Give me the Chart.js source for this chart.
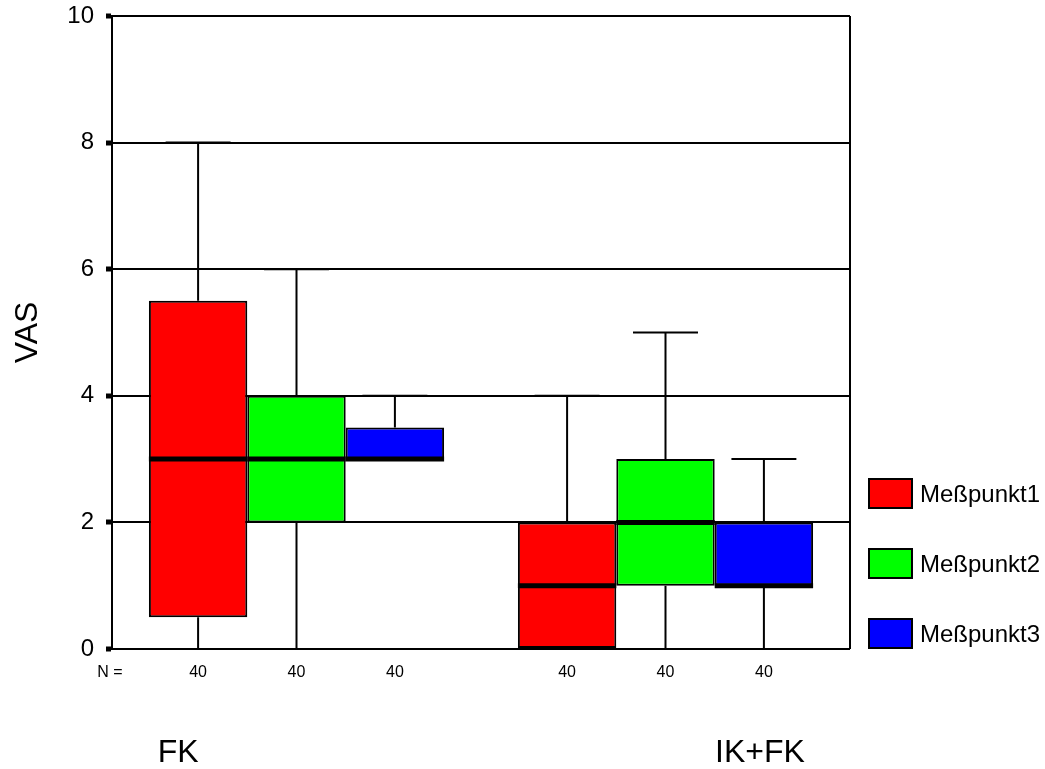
<!DOCTYPE html>
<html>
<head>
<meta charset="utf-8">
<script src="https://cdn.jsdelivr.net/npm/chart.js@4"></script>
<style>
  body { margin: 0; background: #fff; }
</style>
</head>
<body>
<canvas id="vas-chart" width="1045" height="769"></canvas>
<script>
// data
let categories = ['FK', 'IK+FK']
let seriesNames = ['Meßpunkt1', 'Meßpunkt2', 'Meßpunkt3']
let seriesColors = ['#ff0000', '#00ff00', '#0000ff']

// one row per Meßpunkt, one column per group
let whiskerLow = [[0, 0], [0, 0], [3, 0]]
let quartile1 = [[0.5, 0], [2, 1], [3, 1]]
let medians = [[3, 1], [3, 2], [3, 1]]
let quartile3 = [[5.5, 2], [4, 3], [3.5, 2]]
let whiskerHigh = [[8, 4], [6, 5], [4, 3]]
let counts = [[40, 40], [40, 40], [40, 40]]

let yTicks = [0, 2, 4, 6, 8, 10]

let font = '"Liberation Sans", Arial, sans-serif'

// whiskers, medians, N row, group labels, legend
let boxExtras = {
    id: 'boxExtras',
    afterDatasetsDraw(chart) {
        let ctx = chart.ctx
        let y = chart.scales.y
        ctx.save()
        ctx.strokeStyle = '#000'
        chart.data.datasets.forEach(function(ds, i) {
            let meta = chart.getDatasetMeta(i)
            meta.data.forEach(function(bar, j) {
                let x = bar.x
                let w = bar.width
                let cap = w * 0.33
                ctx.lineWidth = 2
                ctx.beginPath()
                if (whiskerHigh[i][j] > quartile3[i][j]) {
                    ctx.moveTo(x, y.getPixelForValue(quartile3[i][j]))
                    ctx.lineTo(x, y.getPixelForValue(whiskerHigh[i][j]))
                    ctx.moveTo(x - cap, y.getPixelForValue(whiskerHigh[i][j]))
                    ctx.lineTo(x + cap, y.getPixelForValue(whiskerHigh[i][j]))
                }
                if (whiskerLow[i][j] < quartile1[i][j]) {
                    ctx.moveTo(x, y.getPixelForValue(quartile1[i][j]))
                    ctx.lineTo(x, y.getPixelForValue(whiskerLow[i][j]))
                    ctx.moveTo(x - cap, y.getPixelForValue(whiskerLow[i][j]))
                    ctx.lineTo(x + cap, y.getPixelForValue(whiskerLow[i][j]))
                }
                ctx.stroke()
                // median
                ctx.lineWidth = 5
                ctx.beginPath()
                ctx.moveTo(x - w / 2, y.getPixelForValue(medians[i][j]))
                ctx.lineTo(x + w / 2, y.getPixelForValue(medians[i][j]))
                ctx.stroke()
            })
        })
        ctx.restore()
    },
    afterDraw(chart) {
        let ctx = chart.ctx
        let area = chart.chartArea
        ctx.save()

        // frame right side
        ctx.strokeStyle = '#000'
        ctx.lineWidth = 2
        ctx.beginPath()
        ctx.moveTo(area.right, area.top)
        ctx.lineTo(area.right, area.bottom)
        ctx.stroke()

        // N = row
        ctx.fillStyle = '#000'
        ctx.textBaseline = 'middle'
        ctx.textAlign = 'center'
        ctx.font = '16px ' + font
        let nY = area.bottom + 24
        ctx.fillText('N =', area.left - 2, nY)
        chart.data.datasets.forEach(function(ds, i) {
            chart.getDatasetMeta(i).data.forEach(function(bar, j) {
                ctx.fillText(String(counts[i][j]), bar.x, nY)
            })
        })

        // group labels
        ctx.font = '32px ' + font
        let first = chart.getDatasetMeta(0).data[0]
        let last = chart.getDatasetMeta(2).data[1]
        ctx.fillText(categories[0], first.x - 20, area.bottom + 104)
        ctx.fillText(categories[1], last.x - 4, area.bottom + 104)

        // legend
        ctx.textAlign = 'left'
        ctx.font = '24px ' + font
        seriesNames.forEach(function(name, i) {
            let top = area.bottom - 31 - (seriesNames.length - 1 - i) * 70
            let left = area.right + 18
            ctx.fillStyle = seriesColors[i]
            ctx.fillRect(left, top, 45, 31)
            ctx.strokeStyle = '#000'
            ctx.lineWidth = 2
            ctx.strokeRect(left + 1, top + 1, 43, 29)
            ctx.fillStyle = '#000'
            ctx.fillText(name, left + 52, top + 17)
        })
        ctx.restore()
    }
}

let canvas = document.querySelector('#vas-chart')
let context = canvas.getContext('2d')

let chart = new Chart(context, {
    type: 'bar',
    data: {
        labels: categories,
        datasets: seriesNames.map(function(name, i) {
            return {
                label: name,
                data: categories.map(function(c, j) { return [quartile1[i][j], quartile3[i][j]] }),
                backgroundColor: seriesColors[i],
                borderColor: '#000',
                borderWidth: 2,
                borderSkipped: false,
                categoryPercentage: 0.8,
                barPercentage: 1.0
            }
        })
    },
    options: {
        responsive: false,
        animation: false,
        layout: { padding: { top: 16, right: 195, bottom: 120, left: 0 } },
        plugins: {
            legend: { display: false },
            tooltip: { enabled: false }
        },
        scales: {
            x: { display: false },
            y: {
                min: 0,
                max: 10,
                afterBuildTicks(scale) {
                    scale.ticks = yTicks.map(function(v) { return { value: v } })
                },
                afterFit(scale) {
                    scale.width = 112
                    scale.paddingTop = 0
                    scale.paddingBottom = 0
                },
                ticks: {
                    color: '#000',
                    padding: 12,
                    font: { family: font, size: 24 }
                },
                grid: {
                    color: '#000',
                    lineWidth: 2,
                    tickLength: 6,
                    tickWidth: 5,
                    tickColor: '#000'
                },
                border: { display: true, color: '#000', width: 2 },
                title: {
                    display: true,
                    text: 'VAS',
                    color: '#000',
                    padding: { top: 9, bottom: 0 },
                    font: { family: font, size: 32, lineHeight: 1.2 }
                }
            }
        }
    },
    plugins: [boxExtras]
})
</script>
</body>
</html>
